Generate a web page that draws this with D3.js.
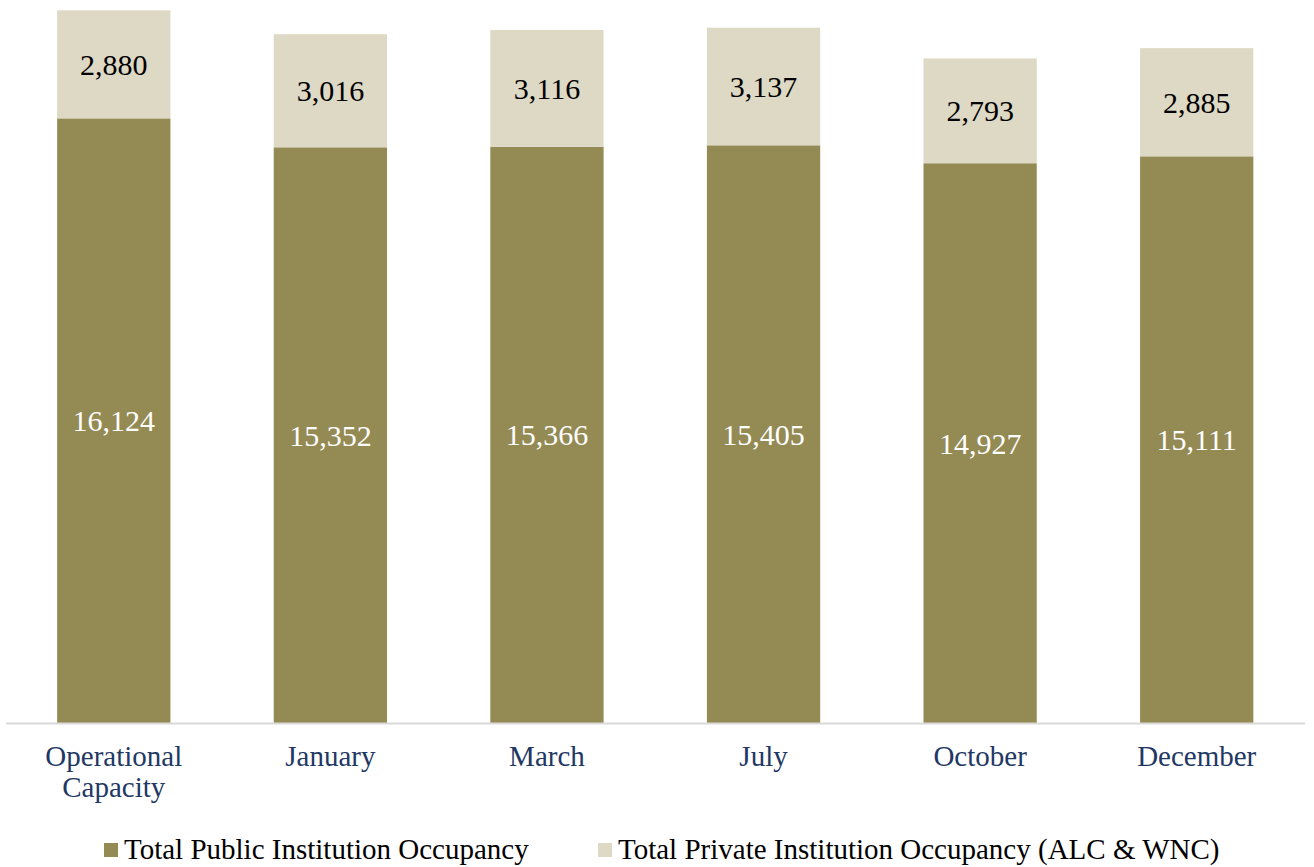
<!DOCTYPE html>
<html><head><meta charset="utf-8">
<script src="https://cdn.jsdelivr.net/npm/d3@7"></script>
<style>
html,body{margin:0;padding:0;background:#fff;}
svg{display:block;}
text{font-family:"Liberation Serif","Times New Roman",serif;}
</style></head>
<body>
<svg id="chart" width="1314" height="867"></svg>
<script>
const categories = ["Operational\nCapacity","January","March","July","October","December"];
const publicOccupancy = [16124,15352,15366,15405,14927,15111];
const privateOccupancy = [2880,3016,3116,3137,2793,2885];
const seriesNames = ["Total Public Institution Occupancy","Total Private Institution Occupancy (ALC & WNC)"];
const colors = ["#948A54","#DDD9C4"];

const svg = d3.select("#chart");
const fmt = d3.format(",");

const x = d3.scaleBand().domain(categories).range([5.5,1305]).paddingInner(0.477).paddingOuter(0.2385);
const y = d3.scaleLinear().domain([0,20000]).range([723,-27]);

const data = categories.map((c,i)=>({cat:c, pub:publicOccupancy[i], priv:privateOccupancy[i]}));

// public bars
svg.append("g").selectAll("rect").data(data).join("rect")
  .attr("x",d=>x(d.cat)).attr("width",x.bandwidth())
  .attr("y",d=>y(d.pub)).attr("height",d=>y(0)-y(d.pub))
  .attr("fill",colors[0]);
// private bars
svg.append("g").selectAll("rect").data(data).join("rect")
  .attr("x",d=>x(d.cat)).attr("width",x.bandwidth())
  .attr("y",d=>y(d.pub+d.priv)).attr("height",d=>y(d.pub)-y(d.pub+d.priv))
  .attr("fill",colors[1]);

// labels
svg.append("g").selectAll("text").data(data).join("text")
  .attr("x",d=>x(d.cat)+x.bandwidth()/2)
  .attr("y",d=>(y(0)+y(d.pub))/2)
  .attr("dy","0.35em").attr("text-anchor","middle")
  .attr("font-size",30).attr("fill","#ffffff")
  .text(d=>fmt(d.pub));
svg.append("g").selectAll("text").data(data).join("text")
  .attr("x",d=>x(d.cat)+x.bandwidth()/2)
  .attr("y",d=>(y(d.pub)+y(d.pub+d.priv))/2)
  .attr("dy","0.35em").attr("text-anchor","middle")
  .attr("font-size",30).attr("fill","#000000")
  .text(d=>fmt(d.priv));

// x axis
const xAxis = svg.append("g").attr("transform","translate(0,723)")
  .call(d3.axisBottom(x).tickSize(0).tickSizeOuter(0));
xAxis.select(".domain").attr("stroke","#d9d9d9").attr("stroke-width",2).attr("d","M6,0.5H1305");
xAxis.selectAll(".tick text").each(function(d){
  const t = d3.select(this);
  t.text(null).attr("y",null).attr("dy",null)
   .attr("font-size",29).attr("fill","#1F3864").attr("font-family","Liberation Serif");
  d.split("\n").forEach((ln,i)=>{
    t.append("tspan").attr("x",0).attr("y",43+i*31).text(ln);
  });
});

// legend
const legendItems = [{name:seriesNames[0],color:colors[0],x:104},{name:seriesNames[1],color:colors[1],x:598}];
const lg = svg.append("g");
legendItems.forEach(it=>{
  lg.append("rect").attr("x",it.x).attr("y",843).attr("width",14).attr("height",14).attr("fill",it.color);
  lg.append("text").attr("x",it.x+20).attr("y",859).attr("font-size",29).attr("fill","#000").text(it.name);
});
</script>
</body></html>
